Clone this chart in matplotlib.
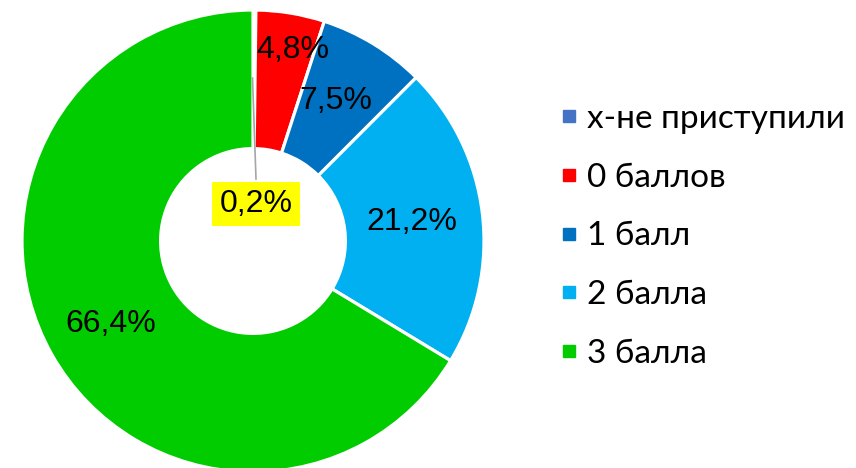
import matplotlib.pyplot as plt
from matplotlib.lines import Line2D

categories = ['x-не приступили', '0 баллов', '1 балл', '2 балла', '3 балла']
shares = [0.2, 4.8, 7.5, 21.2, 66.4]
labels = ['0,2%', '4,8%', '7,5%', '21,2%', '66,4%']
colors = ['#4472C4', '#FF0000', '#0070C0', '#00B0F0', '#00CC00']

W, H = 856, 468
fig = plt.figure(figsize=(W / 100, H / 100), dpi=100)
ax = fig.add_axes([0, 0, 1, 1])

cx, cy, r = 253, H - 241, 231
ax.pie(shares, colors=colors, startangle=90, counterclock=False,
       center=(cx, cy), radius=r, frame=True,
       wedgeprops=dict(width=r * 0.6, edgecolor='white', linewidth=2.3))
ax.set_xlim(0, W)
ax.set_ylim(0, H)
ax.set_aspect('equal')
ax.axis('off')

# label positions (pixels from top-left)
label_pos = [(256, 204), (293, 50), (336, 101), (412, 222), (111, 324)]
for (x, y), t in zip(label_pos, labels):
    kw = {}
    if t == '0,2%':
        kw['bbox'] = dict(boxstyle='square,pad=0.22', fc='#FFFF00', ec='none')
    ax.text(x, H - y, t, ha='center', va='center', fontsize=23,
            family='Liberation Sans', **kw)

# leader line for the small slice
ax.plot([252.5, 256], [H - 78, H - 179], color='#A6A6A6', lw=1.2)

handles = [Line2D([], [], marker='s', ls='none', color=c, markersize=8.6)
           for c in colors]
leg = fig.legend(handles, categories, loc='upper left',
                 bbox_to_anchor=(525 / W, 1 - 74 / H), frameon=False,
                 prop={'family': 'Lato', 'size': 24},
                 handletextpad=0.12, labelspacing=0.86, handlelength=0.85)

fig.savefig('out.png', dpi=100)
